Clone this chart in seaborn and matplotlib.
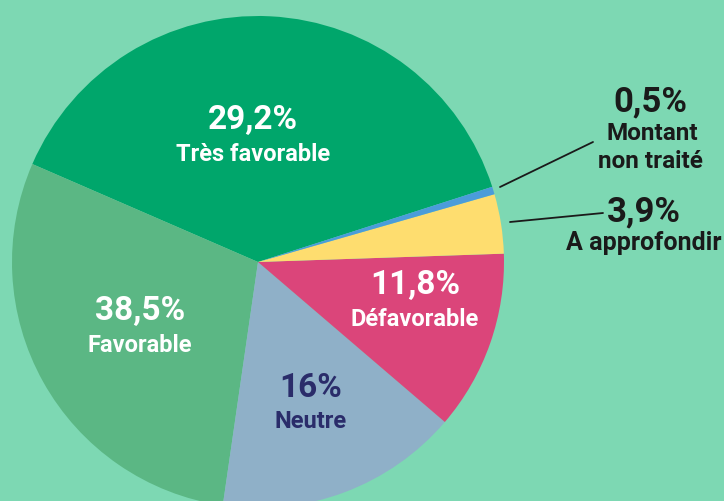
import matplotlib
matplotlib.use("Agg")
import matplotlib.pyplot as plt
from matplotlib import font_manager
import seaborn as sns

sns.set_theme(style="white")
names = {f.name for f in font_manager.fontManager.ttflist}
FONT = "Liberation Sans Narrow" if "Liberation Sans Narrow" in names else "Roboto"
plt.rcParams["font.family"] = [FONT, "DejaVu Sans"]

# Slice order (counter-clockwise from start angle) and drawn sizes
slice_names = ["Très favorable", "Favorable", "Neutre", "Défavorable", "A approfondir", "Montant non traité"]
slice_sizes = [38.5, 29.2, 16.0, 11.8, 3.9, 0.5]
pct_labels = ["29,2%", "38,5%", "16%", "11,8%", "3,9%", "0,5%"]
cat_labels = ["Très favorable", "Favorable", "Neutre", "Défavorable", "A approfondir", "Montant", "non traité"]
colors = ["#00A66B", "#5BB784", "#8FB0C8", "#DB457A", "#FEDD6F", "#4B9CDA"]

BG = "#7DD8B3"
W, H = 724, 501
fig = plt.figure(figsize=(W / 100, H / 100), dpi=100, facecolor=BG)
ax = fig.add_axes([0, 0, 1, 1])
ax.set_facecolor(BG)

cx, cy, r = 258, H - 262, 246
ax.pie(slice_sizes, colors=colors, startangle=17.8, counterclock=True,
       center=(cx, cy), radius=r, frame=True,
       wedgeprops=dict(linewidth=0))
ax.set_xlim(0, W)
ax.set_ylim(0, H)
ax.set_aspect("equal")
ax.axis("off")

def lab(x, y, pct, name, color):
    ax.text(x, H - y, pct, ha="center", va="center", fontsize=24,
            fontweight="bold", color=color)
    ax.text(x, H - y - 34, name, ha="center", va="center",
            fontsize=17, fontweight="bold", color=color)

lab(253, 120, pct_labels[0], cat_labels[0], "white")
lab(140, 311, pct_labels[1], cat_labels[1], "white")
lab(311, 388, pct_labels[2], cat_labels[2], "#2A2C6A")
lab(415, 285, pct_labels[3], cat_labels[3], "white")

dark = "#1A1A1A"
ax.text(650, H - 102, pct_labels[5], ha="center", va="center", fontsize=25,
        fontweight="bold", color=dark)
ax.text(652, H - 133, cat_labels[5], ha="center", va="center", fontsize=17.5,
        fontweight="bold", color=dark)
ax.text(650, H - 161, cat_labels[6], ha="center", va="center", fontsize=17.5,
        fontweight="bold", color=dark)
ax.text(644, H - 212, pct_labels[4], ha="center", va="center", fontsize=25,
        fontweight="bold", color=dark)
ax.text(644, H - 243, cat_labels[4], ha="center", va="center", fontsize=18,
        fontweight="bold", color=dark)

ax.plot([500, 593], [H - 187, H - 142], color=dark, lw=1.3)
ax.plot([510, 603], [H - 222, H - 213], color=dark, lw=1.3)

fig.savefig("out.png", dpi=100, facecolor=BG)
